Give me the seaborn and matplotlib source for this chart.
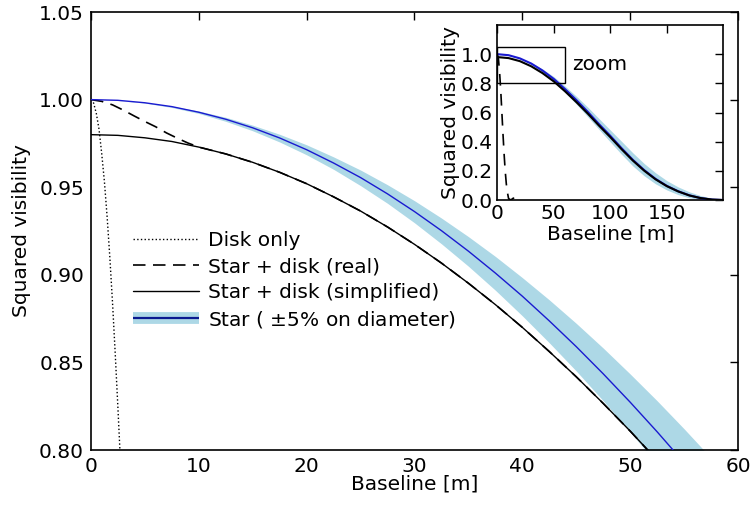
import numpy as np
import pandas as pd
import matplotlib
matplotlib.use("Agg")
import matplotlib.pyplot as plt
from matplotlib.lines import Line2D
import seaborn as sns

# ---------------- data ----------------
# main panel
base_main = [0, 2.5, 5, 7.5, 10, 12.5, 15, 17.5, 20, 22.5, 25, 27.5, 30, 32.5, 35, 37.5,
             40, 42.5, 45, 47.5, 50, 52.5, 55, 57.5, 60]
star_main = [1.0, 0.9996, 0.9982, 0.9960, 0.9928, 0.9888, 0.9839, 0.9781, 0.9714, 0.9638,
             0.9555, 0.9462, 0.9361, 0.9252, 0.9135, 0.9010, 0.8878, 0.8737, 0.8590, 0.8435,
             0.8273, 0.8104, 0.7928, 0.7746, 0.7558]
star_lo_main = [1.0, 0.9995, 0.9980, 0.9955, 0.9921, 0.9876, 0.9822, 0.9758, 0.9685, 0.9602,
                0.9509, 0.9408, 0.9297, 0.9177, 0.9049, 0.8912, 0.8766, 0.8612, 0.8451, 0.8281,
                0.8103, 0.7919, 0.7728, 0.7530, 0.7325]
star_hi_main = [1.0, 0.9996, 0.9984, 0.9963, 0.9935, 0.9899, 0.9854, 0.9802, 0.9742, 0.9673,
                0.9598, 0.9514, 0.9423, 0.9324, 0.9218, 0.9105, 0.8984, 0.8857, 0.8723, 0.8582,
                0.8434, 0.8281, 0.8121, 0.7955, 0.7783]
simpl_main = [0.980, 0.9796, 0.9782, 0.9761, 0.9729, 0.9690, 0.9642, 0.9585, 0.9520, 0.9445,
              0.9364, 0.9273, 0.9174, 0.9067, 0.8952, 0.8830, 0.8700, 0.8562, 0.8418, 0.8266,
              0.8108, 0.7942, 0.7769, 0.7591, 0.7407]

base_real = [0, 1, 2, 3, 4, 5, 6, 7, 8, 9, 10, 12.5, 15, 17.5, 20, 22.5, 25, 27.5, 30, 32.5,
             35, 37.5, 40, 42.5, 45, 47.5, 50, 52.5, 55, 57.5, 60]
real_main = [1.0, 0.9990, 0.9970, 0.9940, 0.9907, 0.9875, 0.9845, 0.9810, 0.9780, 0.9752, 0.9729,
             0.9690, 0.9642, 0.9585, 0.9520, 0.9445, 0.9364, 0.9273, 0.9174, 0.9067,
             0.8952, 0.8830, 0.8700, 0.8562, 0.8418, 0.8266, 0.8108, 0.7942, 0.7769, 0.7591, 0.7407]

base_disk = [0, 0.25, 0.5, 0.75, 1.0, 1.25, 1.5, 1.75, 2.0, 2.25, 2.5, 2.7, 2.9]
disk_main = [1.0, 0.998, 0.992, 0.983, 0.969, 0.953, 0.933, 0.910, 0.884, 0.855, 0.824, 0.798, 0.770]

# inset panel
base_ins = [0, 10, 20, 30, 40, 50, 60, 70, 80, 90, 100, 110, 120, 130, 140, 150, 160, 170, 180, 190, 200]
star_ins = [1.0, 0.993, 0.971, 0.936, 0.888, 0.830, 0.760, 0.685, 0.605, 0.520, 0.440, 0.355, 0.275,
            0.205, 0.145, 0.097, 0.060, 0.032, 0.013, 0.003, 0.0]
star_hi_ins = [1.0, 0.994, 0.974, 0.942, 0.898, 0.846, 0.781, 0.711, 0.637, 0.558, 0.480, 0.402, 0.323,
               0.250, 0.187, 0.133, 0.090, 0.056, 0.030, 0.012, 0.003]
star_lo_ins = [1.0, 0.992, 0.968, 0.929, 0.878, 0.812, 0.737, 0.657, 0.571, 0.484, 0.398, 0.313, 0.233,
               0.166, 0.111, 0.069, 0.037, 0.015, 0.004, 0.0, 0.0]
simpl_ins = [0.980, 0.973, 0.952, 0.917, 0.870, 0.813, 0.745, 0.671, 0.593, 0.510, 0.431, 0.348, 0.270,
             0.201, 0.142, 0.095, 0.059, 0.031, 0.013, 0.003, 0.0]
base_disk_ins = [0, 1, 2, 3, 4, 5, 6, 7, 8, 9, 10, 12, 14, 16, 18, 20, 22]
disk_ins = [1.0, 0.97, 0.88, 0.76, 0.61, 0.46, 0.32, 0.20, 0.11, 0.05, 0.01, 0.0, 0.012, 0.015, 0.010, 0.003, 0.0]

labels = ["Disk only", "Star + disk (real)", "Star + disk (simplified)", "Star ( $\\pm$5% on diameter)"]

# ---------------- style ----------------
sns.set_theme(style="white")
plt.rcParams.update({
    "font.family": ["DejaVu Sans"],
    "font.size": 14.5,
    "axes.labelsize": 14.5,
    "xtick.labelsize": 14.5,
    "ytick.labelsize": 14.5,
    "legend.fontsize": 14.5,
    "xtick.direction": "in",
    "ytick.direction": "in",
    "xtick.top": True,
    "ytick.right": True,
    "xtick.major.size": 6,
    "ytick.major.size": 6,
    "xtick.major.width": 1.0,
    "ytick.major.width": 1.0,
    "axes.edgecolor": "black",
    "axes.linewidth": 1.2,
    "xtick.color": "black",
    "ytick.color": "black",
    "text.color": "black",
    "axes.labelcolor": "black",
    "mathtext.fontset": "dejavusans",
})

BAND = "#add8e6"
BLUE = "#1a1ad0"

fig = plt.figure(figsize=(7.53, 5.07), dpi=100)
ax = fig.add_axes([0.1208, 0.1124, 0.8593, 0.8639])

df_main = pd.DataFrame({"b": base_main, "star": star_main, "lo": star_lo_main,
                        "hi": star_hi_main, "simpl": simpl_main})
df_real = pd.DataFrame({"b": base_real, "v": real_main})
df_disk = pd.DataFrame({"b": base_disk, "v": disk_main})

ax.fill_between(df_main["b"], df_main["lo"], df_main["hi"], color=BAND, lw=0, zorder=1)
sns.lineplot(data=df_disk, x="b", y="v", ax=ax, color="black", lw=1.0, linestyle=":",
             estimator=None, sort=False, zorder=3)
sns.lineplot(data=df_real, x="b", y="v", ax=ax, color="black", lw=1.2,
             estimator=None, sort=False, zorder=3)
ax.lines[-1].set_dashes((7.5, 4.5))
sns.lineplot(data=df_main, x="b", y="simpl", ax=ax, color="black", lw=1.0,
             estimator=None, sort=False, zorder=3)
sns.lineplot(data=df_main, x="b", y="star", ax=ax, color=BLUE, lw=1.0,
             estimator=None, sort=False, zorder=4)

ax.set_xlim(0, 60)
ax.set_ylim(0.80, 1.05)
ax.set_xticks([0, 10, 20, 30, 40, 50, 60])
ax.set_yticks([0.80, 0.85, 0.90, 0.95, 1.00, 1.05])
ax.set_yticklabels(["0.80", "0.85", "0.90", "0.95", "1.00", "1.05"])
ax.set_xlabel("Baseline [m]", labelpad=-1)
ax.set_ylabel("Squared visibility", labelpad=6)
ax.tick_params(axis="both", pad=5)

h1 = Line2D([], [], color="black", lw=1.0, linestyle=":")
h2 = Line2D([], [], color="black", lw=1.2, dashes=(7.5, 4.5))
h3 = Line2D([], [], color="black", lw=1.0)
h4a = Line2D([], [], color=BAND, lw=8.5, solid_capstyle="butt")
h4b = Line2D([], [], color="#0a1a90", lw=1.6, solid_capstyle="butt")
ax.legend([h1, h2, h3, (h4a, h4b)], labels, loc="upper left",
          bbox_to_anchor=(0.052, 0.518), frameon=False, handlelength=3.3,
          handletextpad=0.45, labelspacing=0.34, borderaxespad=0)

# ---------------- inset ----------------
ins = fig.add_axes([0.6604, 0.6055, 0.3002, 0.3452])
df_ins = pd.DataFrame({"b": base_ins, "star": star_ins, "lo": star_lo_ins,
                       "hi": star_hi_ins, "simpl": simpl_ins})
df_dins = pd.DataFrame({"b": base_disk_ins, "v": disk_ins})
ins.fill_between(df_ins["b"], df_ins["lo"], df_ins["hi"], color=BAND, lw=0, zorder=1)
sns.lineplot(data=df_dins, x="b", y="v", ax=ins, color="black", lw=1.2,
             estimator=None, sort=False, zorder=3)
ins.lines[-1].set_dashes((7, 5))
sns.lineplot(data=df_ins, x="b", y="star", ax=ins, color=BLUE, lw=1.5,
             estimator=None, sort=False, zorder=3)
sns.lineplot(data=df_ins, x="b", y="simpl", ax=ins, color="black", lw=1.5,
             estimator=None, sort=False, zorder=4)
ins.add_patch(plt.Rectangle((0, 0.80), 60, 0.25, fill=False, ec="black", lw=1.0, zorder=5))
ins.text(66, 0.93, "zoom", va="center", ha="left", fontsize=14.5)
ins.set_xlim(0, 200)
ins.set_ylim(0, 1.2)
ins.set_xticks([0, 50, 100, 150])
ins.set_yticks([0.0, 0.2, 0.4, 0.6, 0.8, 1.0])
ins.set_yticklabels(["0.0", "0.2", "0.4", "0.6", "0.8", "1.0"])
ins.set_xlabel("Baseline [m]", labelpad=1)
ins.set_ylabel("Squared visibility", labelpad=1)
ins.tick_params(axis="both", pad=3, length=6)

fig.savefig("out.png", dpi=100)
